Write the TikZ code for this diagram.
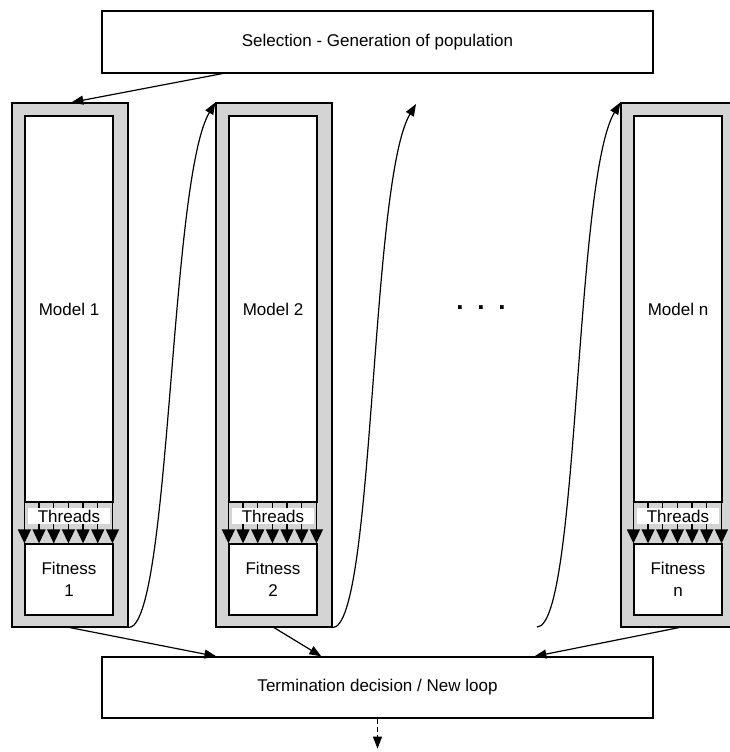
\documentclass[tikz,border=0pt]{standalone}
\usepackage{fontspec}
\setmainfont{Liberation Sans}
\usetikzlibrary{positioning, arrows.meta}
\definecolor{framegray}{RGB}{212,212,212}
\tikzstyle{block}=[draw,fill=white,rectangle,inner sep=0pt]
\tikzstyle{every node}=[font=\fontsize{17}{22}\selectfont]
\tikzstyle{frame}=[draw,fill=framegray,rectangle,minimum width=116,minimum height=524]
\tikzstyle{model}=[block,minimum width=88,minimum height=386]
\tikzstyle{fitness}=[block,minimum width=88,minimum height=71,align=center]
\tikzstyle{threads}=[fill=white,minimum width=82,inner xsep=0pt,inner ysep=1.5pt]
\tikzstyle{thread}=[-{Triangle[length=14pt,width=13pt]}]

\begin{document}
\begin{tikzpicture}[x=1pt,y=-1pt,>={Triangle[length=12pt,width=9pt]},line width=1.2pt]
            \useasboundingbox (0,0) rectangle (730,752);
            \node[block, minimum width=551, minimum height=62] (sel) at (377.5,42) {Selection - Generation of population};
            \foreach \k/\d in {1/0, 2/204, n/609} {
                \node[frame] (f\k) at ({70+\d},365) {};
                \node[model] (m\k) at ({69+\d},309) {Model \k};
                \node[fitness] (fit\k) at ({69+\d},579.5) {Fitness\\\k};
                \foreach \i in {0,...,6}
                    \draw[thread] ([xshift=\i*14.67]m\k.south west) -- ([xshift=\i*14.67]fit\k.north west);
                \node[threads] (th\k) at ({69+\d},516) {Threads};
            }
            \node (dots) at (481,308) {\fontsize{26}{26}\selectfont\bfseries .\hspace{13.8pt}.\hspace{13.8pt}.};
            \node[block, minimum width=551, minimum height=61] (term) at (377.5,687.5) {Termination decision / New loop};
            \coordinate (c2) at (416,104);
            \coordinate (c3) at (537,627);
            \coordinate[below=30pt of term.south] (next);
            \draw[->] ([xshift=121]sel.south west) -- ([xshift=60]f1.north west);
            \draw[->] (f1.south east) .. controls +(42,0) and +(-46,77) .. (f2.north west);
            \draw[->] (f2.south east) .. controls +(42,0) and +(-46,77) .. (c2);
            \draw[->] (c3) .. controls +(42,0) and +(-46,77) .. (fn.north west);
            \draw[->] (f1.south) -- ([xshift=115]term.north west);
            \draw[->] (f2.south) -- ([xshift=220]term.north west);
            \draw[->] (fn.south) -- ([xshift=433]term.north west);
            \draw[->, dash pattern=on 5pt off 3pt] (term) -- (next);
        \end{tikzpicture}
\end{document}
